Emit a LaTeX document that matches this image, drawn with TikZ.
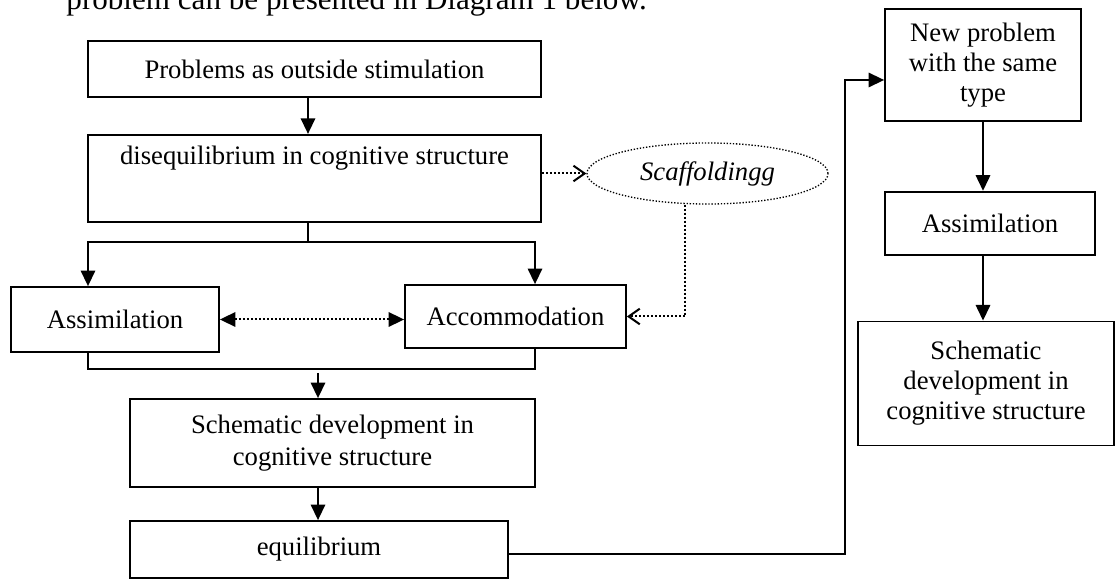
\documentclass[tikz,border=0pt]{standalone}
\usepackage{fontspec}
\setmainfont{Liberation Serif}
\usetikzlibrary{positioning, arrows.meta, shapes.geometric}
\usetikzlibrary{calc}
\tikzset{
>={Triangle[length=7pt,width=6.5pt]}, % filled arrow heads
box/.style={draw, line width=0.8pt, rectangle, align=center, inner sep=2pt, font=\fontsize{12}{13.5}\selectfont}, % every box
dotline/.style={line width=0.9pt, dash pattern=on 0.9pt off 0.9pt}, % the dotted links
open/.style={-{Straight Barb[length=5pt,width=7pt]}}, % open heads of the dotted links
}

\begin{document}
\begin{tikzpicture}[x=0.45pt, y=-0.45pt]
      \useasboundingbox (0,0) rectangle (1115,579);
      \node[anchor=base west, inner sep=0pt, font=\fontsize{14}{16}\selectfont] (intro) at (66,10) {problem can be presented in Diagram 1 below.};
      \node[box, minimum width=203.85pt, minimum height=25.2pt] (prob) at (314.5,69) {Problems as outside stimulation};
      \node[box, below=16.2pt of prob, minimum width=203.85pt, inner ysep=0pt, text height=13.5pt, text depth=25.65pt] (diseq) {disequilibrium in cognitive structure};
      \node[box, minimum width=93.6pt, minimum height=29.25pt] (assimL) at (115,319.5) {Assimilation};
      \node[box, minimum width=99.45pt, minimum height=28.35pt] (accom) at (515.5,316.5) {Accommodation};
      \node[box, minimum width=182.25pt, minimum height=39.6pt, font=\fontsize{12}{14.4}\selectfont] (schemL) at (332.5,443) {Schematic development in\\cognitive structure};
      \node[box, minimum width=170.1pt, minimum height=25.65pt] (equil) at (319,549.5) {equilibrium};
      \node[ellipse, draw, line width=0.6pt, dash pattern=on 0.6pt off 0.8pt, inner sep=0pt, minimum width=108.45pt, minimum height=27.45pt, font=\fontsize{12}{13.5}\selectfont\itshape] (scaff) at (707.5,173.5) {Scaffoldingg};
      \node[box, minimum width=88.2pt, minimum height=50.4pt] (newp) at (983,65) {New problem\\with the same\\type};
      \node[box, below=31pt of newp, xshift=3.15pt, minimum width=94.5pt, minimum height=28.35pt] (assimR) {Assimilation};
      \node[box, below=29.25pt of assimR, xshift=-1.8pt, minimum width=115.2pt, minimum height=55.8pt] (schemR) {Schematic\\development in\\cognitive structure};
      \coordinate (split) at (308,242);
      \coordinate (lsplit) at (88,242);
      \coordinate (rsplit) at (535,242);
      \coordinate (join) at (318,369);
      \coordinate (riser) at (845,80);
      \draw[line width=0.8pt]
      (split |- prob.south) edge[->] (split |- diseq.north)
      (split |- diseq.south) edge (split)
      (split) edge[->, to path={-| (\tikztotarget)}] (lsplit |- assimL.north)
      (split) edge[->, to path={-| (\tikztotarget)}] (rsplit |- accom.north)
      ([yshift=-1.8pt]join) edge[->] (join |- schemL.north)
      (join |- schemL.south) edge[->] (join |- equil.north)
      (newp.south) edge[->] (newp.south |- assimR.north)
      (newp.south |- assimR.south) edge[->] (newp.south |- schemR.north);
      \draw[line width=0.8pt] (lsplit |- assimL.south) -- (lsplit |- join) -- (rsplit |- join) -- (rsplit |- accom.south);
      \draw[line width=0.8pt, ->] ([yshift=-2pt]equil.east) -| (riser) -- (riser -| newp.west);
      \draw[dotline, <->] (assimL.east) -- (assimL.east -| accom.west);
      \draw[dotline, open] (diseq.east |- scaff.west) -- (scaff.west);
      \draw[dotline, open] ([xshift=-10.1pt]scaff.south) |- (accom.east);
    \end{tikzpicture}
\end{document}
